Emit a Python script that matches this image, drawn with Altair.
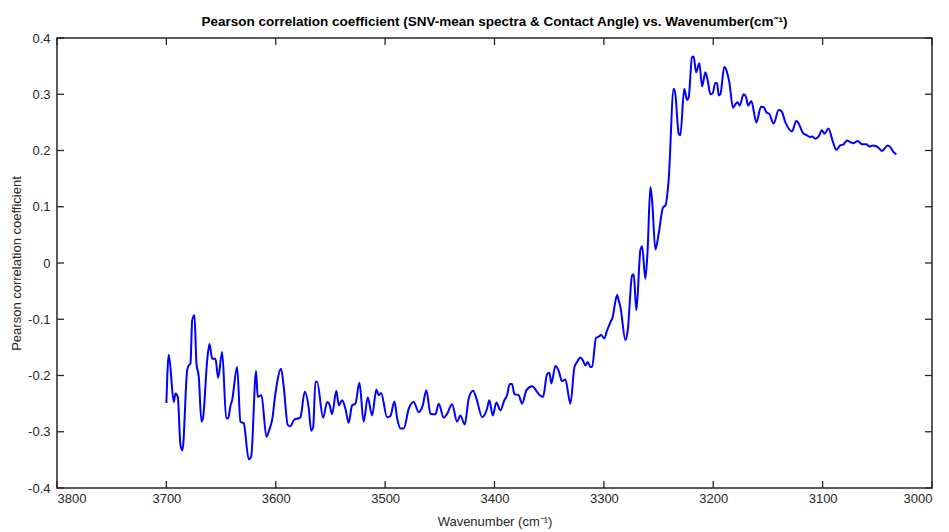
import altair as alt
import pandas as pd

# Wavenumber (cm^-1) and Pearson r between SNV-mean spectra and contact angle
wavenumber = [
    3700.0, 3697.8, 3693.2, 3691.7, 3689.6, 3687.1, 3685.3, 3681.0, 3679.5, 3678.0,
    3676.4, 3674.3, 3672.5, 3670.4, 3667.9, 3666.4, 3662.7, 3660.6, 3658.1, 3655.1,
    3652.7, 3649.0, 3645.3, 3643.5, 3641.4, 3639.9, 3635.3, 3632.3, 3629.3, 3624.7,
    3622.5, 3618.0, 3616.5, 3613.1, 3608.5, 3605.5, 3603.3, 3600.3, 3595.1, 3592.7,
    3589.0, 3586.6, 3582.9, 3579.0, 3577.4, 3573.5, 3569.8, 3567.6, 3565.8, 3563.7,
    3562.2, 3556.7, 3553.0, 3550.6, 3548.5, 3544.6, 3542.4, 3539.3, 3536.3, 3533.3,
    3530.2, 3527.2, 3523.5, 3519.6, 3515.9, 3511.9, 3508.0, 3505.9, 3503.7, 3498.2,
    3495.2, 3491.5, 3489.0, 3486.0, 3483.0, 3478.4, 3473.9, 3469.3, 3465.6, 3462.3,
    3458.6, 3454.0, 3451.0, 3446.4, 3443.3, 3438.8, 3434.2, 3431.2, 3427.2, 3423.6,
    3419.6, 3416.5, 3411.3, 3406.8, 3404.7, 3401.6, 3398.3, 3394.6, 3391.0, 3388.5,
    3386.1, 3384.0, 3381.8, 3377.9, 3374.8, 3370.8, 3365.6, 3361.1, 3359.6, 3355.6,
    3352.0, 3349.8, 3348.0, 3344.3, 3341.3, 3338.2, 3335.2, 3330.6, 3327.0, 3324.5,
    3321.5, 3319.0, 3316.9, 3314.8, 3312.3, 3310.8, 3307.2, 3304.8, 3302.6, 3299.6,
    3297.1, 3294.0, 3291.9, 3290.1, 3287.9, 3286.5, 3284.9, 3280.3, 3278.2, 3274.2,
    3272.7, 3270.3, 3266.6, 3265.0, 3262.1, 3260.0, 3257.5, 3255.9, 3252.9, 3249.9,
    3245.9, 3243.8, 3240.8, 3236.2, 3234.7, 3231.6, 3230.1, 3226.5, 3224.0, 3222.5,
    3219.4, 3217.9, 3215.7, 3212.7, 3210.2, 3207.2, 3205.1, 3202.6, 3200.5, 3198.1,
    3196.5, 3195.0, 3193.5, 3189.9, 3187.4, 3185.3, 3181.9, 3179.8, 3177.7, 3175.8,
    3172.2, 3170.0, 3168.2, 3165.2, 3160.6, 3156.3, 3153.9, 3151.4, 3148.7, 3144.8,
    3140.2, 3137.7, 3134.0, 3128.0, 3124.0, 3121.9, 3117.9, 3114.3, 3111.3, 3109.8,
    3106.7, 3103.7, 3100.6, 3098.3, 3094.7, 3090.5, 3087.5, 3083.9, 3080.9, 3077.7,
    3074.8, 3071.7, 3068.0, 3064.0, 3060.1, 3057.0, 3053.9, 3048.8, 3045.7, 3040.6,
    3038.1, 3035.1, 3032.6,
]
pearson_r = [
    -0.249, -0.163, -0.247, -0.232, -0.238, -0.324, -0.333, -0.191, -0.182, -0.179,
    -0.102, -0.093, -0.179, -0.202, -0.282, -0.274, -0.173, -0.144, -0.170, -0.170,
    -0.204, -0.158, -0.276, -0.276, -0.254, -0.244, -0.185, -0.282, -0.285, -0.349,
    -0.345, -0.192, -0.238, -0.235, -0.309, -0.294, -0.279, -0.232, -0.188, -0.220,
    -0.288, -0.290, -0.278, -0.276, -0.274, -0.229, -0.259, -0.298, -0.292, -0.211,
    -0.211, -0.275, -0.247, -0.253, -0.269, -0.227, -0.253, -0.244, -0.259, -0.284,
    -0.253, -0.250, -0.213, -0.282, -0.239, -0.271, -0.225, -0.235, -0.231, -0.274,
    -0.272, -0.246, -0.276, -0.294, -0.294, -0.259, -0.247, -0.265, -0.253, -0.226,
    -0.268, -0.269, -0.250, -0.275, -0.268, -0.251, -0.282, -0.271, -0.287, -0.241,
    -0.227, -0.241, -0.274, -0.259, -0.244, -0.271, -0.248, -0.262, -0.244, -0.235,
    -0.215, -0.215, -0.233, -0.235, -0.250, -0.226, -0.219, -0.229, -0.233, -0.238,
    -0.198, -0.195, -0.214, -0.183, -0.192, -0.210, -0.207, -0.250, -0.186, -0.176,
    -0.168, -0.174, -0.182, -0.176, -0.185, -0.185, -0.133, -0.131, -0.128, -0.134,
    -0.120, -0.105, -0.096, -0.075, -0.057, -0.066, -0.078, -0.137, -0.120, -0.022,
    -0.020, -0.084, 0.023, 0.030, -0.028, 0.023, 0.135, 0.111, 0.024, 0.052,
    0.099, 0.102, 0.147, 0.310, 0.301, 0.230, 0.227, 0.310, 0.290, 0.294,
    0.366, 0.367, 0.339, 0.355, 0.314, 0.339, 0.325, 0.300, 0.302, 0.320,
    0.320, 0.298, 0.300, 0.349, 0.339, 0.321, 0.276, 0.282, 0.286, 0.280,
    0.300, 0.295, 0.280, 0.288, 0.250, 0.278, 0.277, 0.268, 0.265, 0.248,
    0.272, 0.270, 0.250, 0.234, 0.253, 0.248, 0.231, 0.227, 0.224, 0.225,
    0.221, 0.225, 0.236, 0.230, 0.239, 0.215, 0.201, 0.209, 0.211, 0.218,
    0.215, 0.213, 0.217, 0.211, 0.211, 0.207, 0.209, 0.205, 0.199, 0.209,
    0.206, 0.197, 0.193,
]

x_ticks = [3800, 3700, 3600, 3500, 3400, 3300, 3200, 3100, 3000]
y_ticks = [-0.4, -0.3, -0.2, -0.1, 0, 0.1, 0.2, 0.3, 0.4]

W, H = 875, 450
TICK = 7
AXIS_COLOR = "#262626"
FONT = "Liberation Sans"

df = pd.DataFrame({"wn": wavenumber, "r": pearson_r})
xt = pd.DataFrame({"wn": x_ticks})
yt = pd.DataFrame({"r": y_ticks})

x_scale = alt.Scale(domain=[3000, 3800], reverse=True, nice=False, zero=False)
y_scale = alt.Scale(domain=[-0.4, 0.4], nice=False, zero=False)

x_axis = alt.Axis(
    values=x_ticks, format="d", ticks=False, domain=False, grid=False,
    labelFont=FONT, labelFontSize=13, labelColor=AXIS_COLOR, labelPadding=4,
    title="Wavenumber (cm⁻¹)", titleFont=FONT, titleFontSize=13,
    titleFontWeight="normal", titleColor=AXIS_COLOR, titlePadding=10,
)
y_axis = alt.Axis(
    values=y_ticks, labelExpr="'' + datum.value", ticks=False, domain=False,
    grid=False, labelFont=FONT, labelFontSize=13, labelColor=AXIS_COLOR,
    labelPadding=7, title="Pearson correlation coefficient", titleFont=FONT,
    titleFontSize=13, titleFontWeight="normal", titleColor=AXIS_COLOR,
    titlePadding=4,
)

line = alt.Chart(df).mark_line(color="#0000FF", strokeWidth=2, interpolate="monotone").encode(
    x=alt.X("wn:Q", scale=x_scale, axis=x_axis),
    y=alt.Y("r:Q", scale=y_scale, axis=y_axis),
)

# Inward tick marks on all four sides of the box
tick_style = dict(color=AXIS_COLOR, strokeWidth=1.3)
x_bottom = alt.Chart(xt).mark_rule(**tick_style).encode(
    x=alt.X("wn:Q", scale=x_scale), y=alt.value(H), y2=alt.value(H - TICK))
x_top = alt.Chart(xt).mark_rule(**tick_style).encode(
    x=alt.X("wn:Q", scale=x_scale), y=alt.value(0), y2=alt.value(TICK))
y_left = alt.Chart(yt).mark_rule(**tick_style).encode(
    y=alt.Y("r:Q", scale=y_scale), x=alt.value(0), x2=alt.value(TICK))
y_right = alt.Chart(yt).mark_rule(**tick_style).encode(
    y=alt.Y("r:Q", scale=y_scale), x=alt.value(W - TICK), x2=alt.value(W))

chart = alt.layer(line, x_bottom, x_top, y_left, y_right).properties(
    width=W,
    height=H,
    title=alt.Title(
        "Pearson correlation coefficient (SNV-mean spectra & Contact Angle) vs. Wavenumber(cm⁻¹)",
        font=FONT, fontSize=13.5, fontWeight="bold", color="#000000", offset=4,
        anchor="middle",
    ),
    autosize=alt.AutoSizeParams(type="none"),
    padding={"left": 57, "top": 38, "right": 17, "bottom": 44},
    background="white",
).configure_view(
    stroke=AXIS_COLOR, strokeWidth=1.5
)

chart.save("out.html", embed_options={"renderer": "svg", "actions": False})
